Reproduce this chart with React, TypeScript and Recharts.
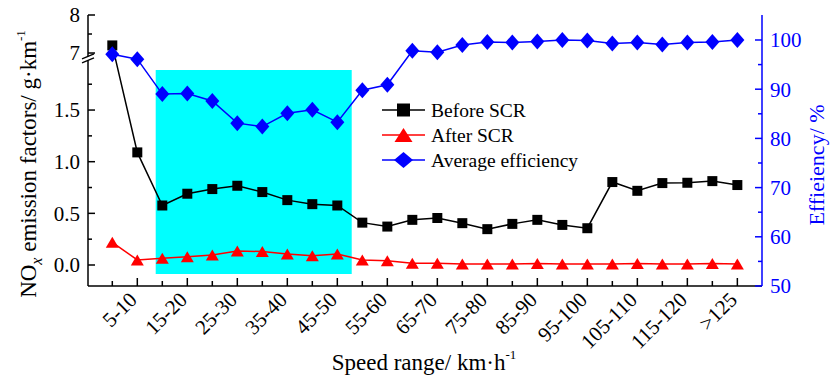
import React from 'react';
import { ComposedChart, Line, XAxis, YAxis, ReferenceArea, Legend, Label } from 'recharts';

const categories = ['0-5', '5-10', '10-15', '15-20', '20-25', '25-30', '30-35', '35-40', '40-45', '45-50', '50-55', '55-60', '60-65', '65-70', '70-75', '75-80', '80-85', '85-90', '90-95', '95-100', '100-105', '105-110', '110-115', '115-120', '120-125', '>125'];
const beforeSCR = [7.2, 1.09, 0.576, 0.69, 0.735, 0.767, 0.706, 0.628, 0.589, 0.576, 0.41, 0.372, 0.437, 0.455, 0.405, 0.347, 0.398, 0.437, 0.388, 0.356, 0.803, 0.718, 0.793, 0.796, 0.812, 0.774];
const afterSCR = [0.22, 0.049, 0.065, 0.08, 0.097, 0.136, 0.13, 0.107, 0.09, 0.107, 0.049, 0.042, 0.016, 0.016, 0.01, 0.01, 0.01, 0.014, 0.01, 0.01, 0.01, 0.014, 0.01, 0.01, 0.014, 0.01];
const efficiency = [97.1, 96.1, 89.0, 89.1, 87.6, 83.1, 82.4, 85.1, 85.8, 83.3, 89.8, 90.9, 97.8, 97.5, 99.0, 99.6, 99.5, 99.7, 100.0, 99.9, 99.3, 99.5, 99.1, 99.5, 99.6, 100.0];

const leftMajor = [0, 0.5, 1.0, 1.5, 7, 8];
const leftMajorLabels = ['0.0', '0.5', '1.0', '1.5', '7', '8'];
const leftMinor = [0.25, 0.75, 1.25, 1.75, 7.5];
const rightTicks = [50, 55, 60, 65, 70, 75, 80, 85, 90, 95, 100];
const highlight = { fromIndex: 1.736, toIndex: 9.576, low: -0.087, high: 1.888 };

// broken left axis: lower segment linear, upper segment (7..8) compressed
const UP_BASE = 7;
const UP_T0 = 2.052;
const UP_SCALE = 0.368;
const BREAK_T = 2.004;
const toT = (v: number) => (v >= 5 ? UP_T0 + (v - UP_BASE) * UP_SCALE : v);

const FONT = 'Liberation Serif, Times New Roman, Times, serif';
const BLUE = '#0000FF';
const RED = '#FF0000';
const CYAN = '#00FFFF';

const data = categories.map((c, i) => ({
  i,
  cat: c,
  before: toT(beforeSCR[i]),
  after: afterSCR[i],
  eff: efficiency[i],
}));

const xTicks = categories.map((_, i) => i);
const leftTickValues = [...leftMajor.map(toT), ...leftMinor.map(toT), BREAK_T];

const near = (a: number, b: number) => Math.abs(a - b) < 1e-6;
const tStyle = { fontFamily: FONT };

const LeftTick = (props: any) => {
  const { x, y, payload } = props;
  const v = payload.value;
  if (near(v, BREAK_T)) {
    return (
      <g>
        <polygon points={`${x - 6},${y + 1} ${x + 6},${y - 4} ${x + 6},${y} ${x - 6},${y + 5}`} fill="#fff" stroke="none" />
        <line x1={x - 6} y1={y + 1} x2={x + 6} y2={y - 4} stroke="#000" strokeWidth={1.3} />
        <line x1={x - 6} y1={y + 5} x2={x + 6} y2={y} stroke="#000" strokeWidth={1.3} />
      </g>
    );
  }
  const mi = leftMajor.findIndex((m) => near(toT(m), v));
  if (mi >= 0) {
    return (
      <g>
        <line x1={x} y1={y} x2={x + 7} y2={y} stroke="#000" strokeWidth={1.5} />
        <text x={x - 8} y={y} dy="0.35em" textAnchor="end" fontSize={21} style={tStyle} fill="#000">
          {leftMajorLabels[mi]}
        </text>
      </g>
    );
  }
  return <line x1={x} y1={y} x2={x + 4} y2={y} stroke="#000" strokeWidth={1.5} />;
};

const RightTick = (props: any) => {
  const { x, y, payload } = props;
  const v = payload.value;
  const major = v % 10 === 0;
  return (
    <g>
      <line x1={x} y1={y} x2={x - (major ? 7 : 4)} y2={y} stroke={BLUE} strokeWidth={1.5} />
      {major && (
        <text x={x + 8} y={y} dy="0.35em" textAnchor="start" fontSize={21} style={tStyle} fill={BLUE}>
          {v}
        </text>
      )}
    </g>
  );
};

const BottomTick = (props: any) => {
  const { x, y, payload } = props;
  const i = payload.value;
  const major = i % 2 === 1;
  return (
    <g>
      <line x1={x} y1={y} x2={x} y2={y - (major ? 8 : 5)} stroke="#000" strokeWidth={1.5} />
      {major && (
        <text transform={`translate(${x + 1},${y + 15}) rotate(-45)`} textAnchor="end" fontSize={21} style={tStyle} fill="#000">
          {categories[i]}
        </text>
      )}
    </g>
  );
};

const TopTick = (props: any) => {
  const { x, y, payload } = props;
  const major = payload.value % 2 === 1;
  return <line x1={x} y1={y} x2={x} y2={y + (major ? 8 : 5)} stroke="#000" strokeWidth={1.5} />;
};

const squarePath = (cx: number, cy: number, s: number) => `M${cx - s / 2},${cy - s / 2}h${s}v${s}h${-s}Z`;
const triPath = (cx: number, cy: number, w: number, h: number) => `M${cx},${cy - h / 2}L${cx + w / 2},${cy + h / 2}L${cx - w / 2},${cy + h / 2}Z`;
const diaPath = (cx: number, cy: number, w: number, h: number) => `M${cx},${cy - h / 2}L${cx + w / 2},${cy}L${cx},${cy + h / 2}L${cx - w / 2},${cy}Z`;

const SquareDot = (p: any) => <path key={`s${p.index}`} d={squarePath(p.cx, p.cy, 10)} fill="#000" />;
const TriDot = (p: any) => <path key={`t${p.index}`} d={triPath(p.cx, p.cy, 13, 11)} fill={RED} />;
const DiaDot = (p: any) => <path key={`d${p.index}`} d={diaPath(p.cx, p.cy, 14, 16)} fill={BLUE} />;

const legendItems = [
  { name: 'Before SCR', color: '#000', shape: 'square' },
  { name: 'After SCR', color: RED, shape: 'triangle' },
  { name: 'Average efficiency', color: BLUE, shape: 'diamond' },
];

const LegendContent = () => (
  <svg width={260} height={78} style={{ display: 'block' }}>
    {legendItems.map((it, k) => {
      const cy = 14 + k * 25;
      const cx = 25.5;
      const d =
        it.shape === 'square' ? squarePath(cx, cy, 13) : it.shape === 'triangle' ? triPath(cx, cy, 18, 14) : diaPath(cx, cy, 19, 16);
      return (
        <g key={it.name}>
          <line x1={4} x2={47} y1={cy} y2={cy} stroke={it.color} strokeWidth={1.5} />
          <path d={d} fill={it.color} />
          <text x={53} y={cy} dy="0.35em" fontSize={19.5} style={tStyle} fill="#000">
            {it.name}
          </text>
        </g>
      );
    })}
  </svg>
);

const LeftTitle = () => (
  <text transform="translate(36,164) rotate(-90)" textAnchor="middle" fontSize={23} style={tStyle} fill="#000">
    NO
    <tspan fontStyle="italic" fontSize={16} dy={6}>x</tspan>
    <tspan dy={-6}> emission factors/ g·km</tspan>
    <tspan fontSize={13} dy={-11}>-1</tspan>
  </text>
);

const RightTitle = () => (
  <text transform="translate(824,165) rotate(-90)" textAnchor="middle" fontSize={22} style={tStyle} fill={BLUE}>
    Effieiency/ %
  </text>
);

const BottomTitle = () => (
  <text x={424} y={370} textAnchor="middle" fontSize={23} style={tStyle} fill="#000">
    Speed range/ km·h
    <tspan fontSize={13} dy={-11}>-1</tspan>
  </text>
);

export default function App() {
  const xDomain: [number, number] = [-0.972, 25.986];
  return (
    <div style={{ position: 'absolute', left: 0, top: 0, width: 831, height: 381, background: '#fff', fontFamily: FONT }}>
      <ComposedChart width={831} height={381} data={data} margin={{ top: 15, right: 19, bottom: 35, left: 28 }}>
        <XAxis
          xAxisId="b"
          dataKey="i"
          type="number"
          domain={xDomain}
          allowDataOverflow
          ticks={xTicks}
          interval={0}
          height={60}
          tickSize={0}
          tickMargin={0}
          tickLine={false}
          tick={(p: any) => <BottomTick {...p} />}
          axisLine={{ stroke: '#000', strokeWidth: 1.5 }}
        >
          <Label content={() => <BottomTitle />} />
        </XAxis>
        <XAxis
          xAxisId="t"
          orientation="top"
          dataKey="i"
          type="number"
          domain={xDomain}
          allowDataOverflow
          ticks={xTicks}
          interval={0}
          height={0}
          tickSize={0}
          tickMargin={0}
          tickLine={false}
          tick={(p: any) => <TopTick {...p} />}
          axisLine={{ stroke: '#000', strokeWidth: 1.5 }}
        />
        <YAxis
          yAxisId="L"
          type="number"
          domain={[-0.2033, 2.42]}
          allowDataOverflow
          ticks={leftTickValues}
          interval={0}
          width={60}
          tickSize={0}
          tickMargin={0}
          tickLine={false}
          tick={(p: any) => <LeftTick {...p} />}
          axisLine={{ stroke: '#000', strokeWidth: 1.5 }}
        >
          <Label content={() => <LeftTitle />} />
        </YAxis>
        <YAxis
          yAxisId="R"
          orientation="right"
          type="number"
          domain={[50, 105.08]}
          allowDataOverflow
          ticks={rightTicks}
          interval={0}
          width={50}
          tickSize={0}
          tickMargin={0}
          tickLine={false}
          tick={(p: any) => <RightTick {...p} />}
          axisLine={{ stroke: BLUE, strokeWidth: 1.5 }}
        >
          <Label content={() => <RightTitle />} />
        </YAxis>
        <ReferenceArea
          xAxisId="b"
          yAxisId="L"
          x1={highlight.fromIndex}
          x2={highlight.toIndex}
          y1={highlight.low}
          y2={highlight.high}
          fill={CYAN}
          fillOpacity={1}
          stroke="none"
          ifOverflow="visible"
        />
        <Line xAxisId="b" yAxisId="L" dataKey="before" name="Before SCR" stroke="#000" strokeWidth={1.5} dot={SquareDot} activeDot={false} isAnimationActive={false} />
        <Line xAxisId="b" yAxisId="L" dataKey="after" name="After SCR" stroke={RED} strokeWidth={1.5} dot={TriDot} activeDot={false} isAnimationActive={false} />
        <Line xAxisId="b" yAxisId="R" dataKey="eff" name="Average efficiency" stroke={BLUE} strokeWidth={1.5} dot={DiaDot} activeDot={false} isAnimationActive={false} />
        <Legend
          layout="horizontal"
          verticalAlign="middle"
          align="center"
          wrapperStyle={{ position: 'absolute', left: 378, top: 96, width: 260, height: 78 }}
          content={() => <LegendContent />}
        />
      </ComposedChart>
    </div>
  );
}
